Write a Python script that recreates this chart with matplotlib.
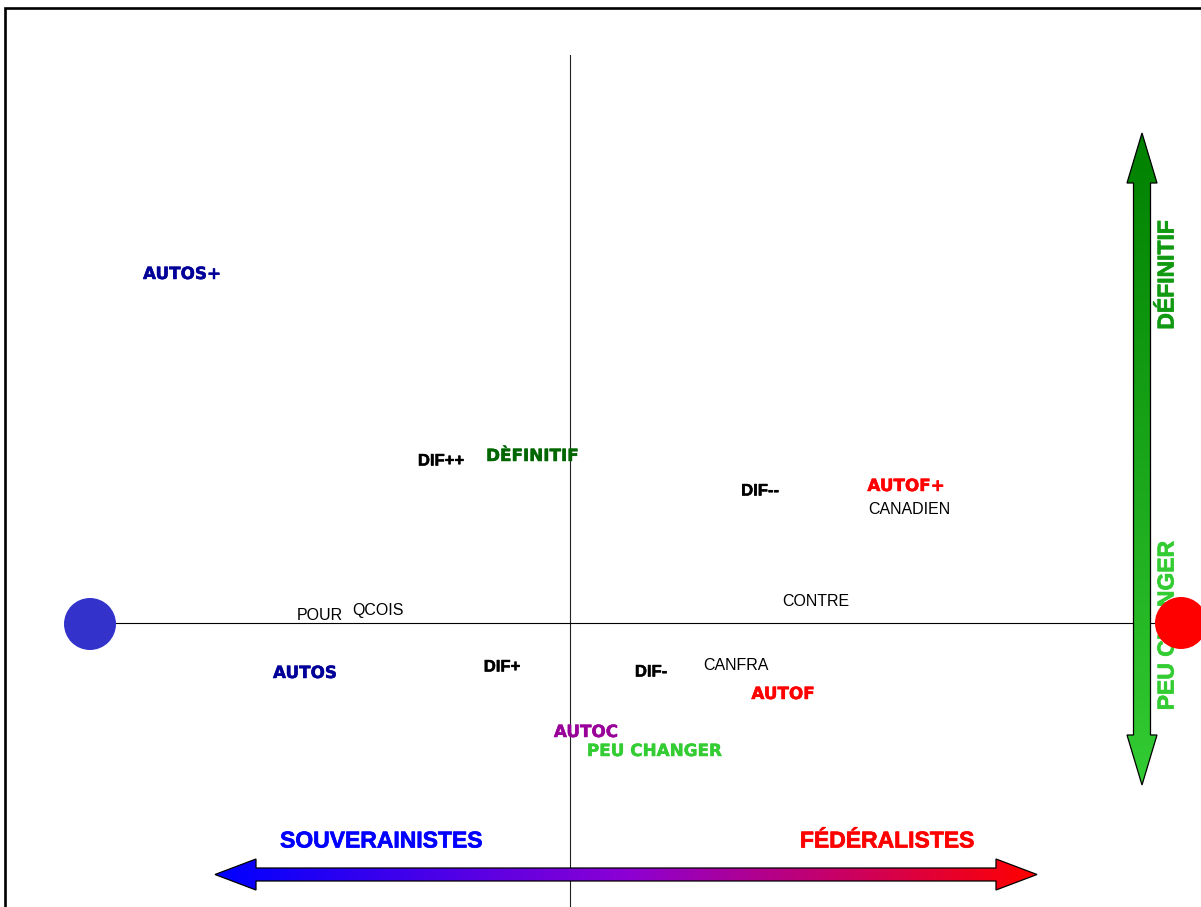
import matplotlib
matplotlib.use("Agg")
import matplotlib.pyplot as plt
import matplotlib.patheffects as pe
import numpy as np
from matplotlib.patches import Polygon, Circle
from matplotlib.colors import LinearSegmentedColormap

# ---- data: factor-map coordinates of each modality label ----
labels = ["AUTOS+", "DIF++", "DÈFINITIF", "DIF--", "AUTOF+", "CANADIEN",
          "POUR", "QCOIS", "CONTRE", "AUTOS", "DIF+", "DIF-", "CANFRA",
          "AUTOF", "AUTOC", "PEU CHANGER"]
x_coord = [-3.88, -1.29, -0.38, 1.90, 3.36, 3.39,
           -2.50, -1.92, 2.46, -2.65, -0.68, 0.81, 1.66,
           2.13, 0.16, 0.84]
y_coord = [3.49, 1.62, 1.67, 1.32, 1.37, 1.14,
           0.08, 0.13, 0.22, -0.50, -0.44, -0.49, -0.42,
           -0.71, -1.09, -1.28]
groups = ["sov", "dif", "def", "dif", "fed", "plain",
          "plain", "plain", "plain", "sov", "dif", "dif", "plain",
          "fed", "aut", "peu"]

# poles of the horizontal axis
pole_x = [-4.80, 6.11]
pole_y = [-0.01, 0.0]
pole_colors = ["#3333cc", "#ff0000"]

styles = {
    "sov":   dict(color="#000099", family="DejaVu Sans", weight="bold", size=12.1),
    "fed":   dict(color="#ff0000", family="DejaVu Sans", weight="bold", size=12.1),
    "def":   dict(color="#006600", family="DejaVu Sans", weight="bold", size=12.1),
    "aut":   dict(color="#990099", family="DejaVu Sans", weight="bold", size=12.1),
    "peu":   dict(color="#33cc33", family="DejaVu Sans", weight="bold", size=12.1),
    "dif":   dict(color="#000000", family="Liberation Sans", weight="bold", size=12.0),
    "plain": dict(color="#000000", family="Liberation Sans", weight="normal", size=11.5),
}

fig = plt.figure(figsize=(12.01, 9.07), dpi=100)
ax = fig.add_axes([0, 0, 1, 1])
ax.set_xlim(-5.70, 6.31)
ax.set_ylim(-2.84, 6.23)
ax.axis("off")

# frame
ax.plot([-5.65, -5.65, 6.40], [-3.0, 6.15, 6.15], color="black", lw=1.9,
        solid_joinstyle="miter", clip_on=False, zorder=1)

# axes lines
ax.plot([0, 0], [5.68, -2.84], color="#222222", lw=0.8, zorder=2)
ax.plot([pole_x[0], pole_x[1]], [0, 0], color="#000000", lw=0.8, zorder=2)


def gradient_arrow(poly, extent, colors, horizontal):
    cmap = LinearSegmentedColormap.from_list("g", colors)
    grad = np.linspace(0, 1, 256)
    if horizontal:
        img = grad[np.newaxis, :]
    else:
        img = grad[:, np.newaxis]
    im = ax.imshow(img, cmap=cmap, extent=extent, origin="lower" if horizontal else "upper",
                   aspect="auto", zorder=3, interpolation="bilinear")
    p = Polygon(poly, closed=True, facecolor="none", edgecolor="black", lw=0.9, zorder=4,
                joinstyle="miter")
    ax.add_patch(p)
    im.set_clip_path(p)


# vertical green arrow
cx, top, bot = 5.72, 4.90, -1.62
hw, sw, hl = 0.15, 0.085, 0.50
vpoly = [(cx, top), (cx + hw, top - hl), (cx + sw, top - hl), (cx + sw, bot + hl),
         (cx + hw, bot + hl), (cx, bot), (cx - hw, bot + hl), (cx - sw, bot + hl),
         (cx - sw, top - hl), (cx - hw, top - hl)]
gradient_arrow(vpoly, [cx - hw, cx + hw, bot, top], ["#008000", "#33cc33"], False)

# horizontal gradient arrow
cy, lft, rgt = -2.515, -3.55, 4.67
hw2, sw2, hl2 = 0.155, 0.065, 0.41
hpoly = [(lft, cy), (lft + hl2, cy + hw2), (lft + hl2, cy + sw2), (rgt - hl2, cy + sw2),
         (rgt - hl2, cy + hw2), (rgt, cy), (rgt - hl2, cy - hw2), (rgt - hl2, cy - sw2),
         (lft + hl2, cy - sw2), (lft + hl2, cy - hw2)]
gradient_arrow(hpoly, [lft, rgt, cy - hw2, cy + hw2], ["#0000ff", "#8c00d4", "#ff0000"], True)


def bold_fx(color, w=0.6):
    return [pe.withStroke(linewidth=w, foreground=color)]


# axis titles
for tx, ty, s, c, rot in [(-1.89, -2.18, "SOUVERAINISTES", "#0000ff", 0),
                          (3.17, -2.18, "FÉDÉRALISTES", "#ff0000", 0),
                          (5.97, 3.48, "DÉFINITIF", "#119911", 90),
                          (5.97, -0.03, "PEU CHANGER", "#33cc33", 90)]:
    ax.text(tx, ty, s, color=c, fontsize=16.5, fontweight="bold", family="Liberation Sans",
            ha="center", va="center", rotation=rot, zorder=5, path_effects=bold_fx(c, 0.5))

# poles
for px, py, pc in zip(pole_x, pole_y, pole_colors):
    ax.add_patch(Circle((px, py), 0.26, facecolor=pc, edgecolor="none", zorder=6))

# modality labels
for lab, xv, yv, g in zip(labels, x_coord, y_coord, groups):
    st = styles[g]
    fx = bold_fx(st["color"], 0.35) if st["weight"] == "bold" else None
    ax.text(xv, yv, lab, color=st["color"], family=st["family"], fontweight=st["weight"],
            fontsize=st["size"], ha="center", va="center", zorder=7, path_effects=fx)

fig.savefig("out.png", dpi=100, facecolor="white")
